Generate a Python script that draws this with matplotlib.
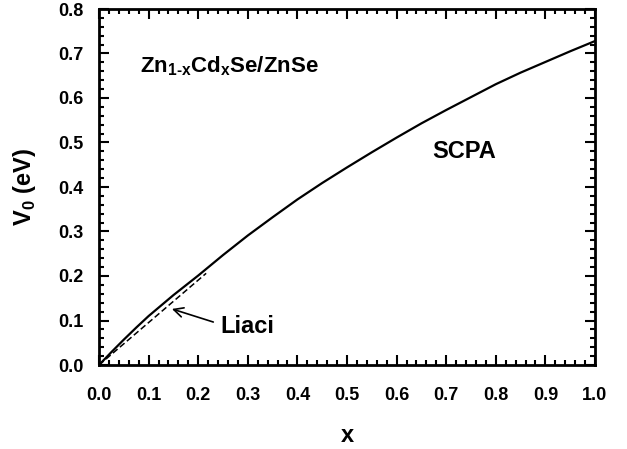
'''
V0 vs x for Zn1-xCdxSe/ZnSe (SCPA vs Liaci)
'''
import matplotlib
matplotlib.use('Agg')
import matplotlib.pyplot as plt
from matplotlib.ticker import MultipleLocator

# SCPA curve
x_scpa = [0.0, 0.025, 0.05, 0.075, 0.1, 0.15, 0.2, 0.25, 0.3, 0.35, 0.4, 0.45, 0.5,
          0.55, 0.6, 0.65, 0.7, 0.75, 0.8, 0.85, 0.9, 0.95, 1.0]
v_scpa = [0.0, 0.029, 0.057, 0.084, 0.110, 0.157, 0.201, 0.247, 0.291, 0.332, 0.372,
          0.409, 0.444, 0.478, 0.511, 0.543, 0.573, 0.602, 0.631, 0.657, 0.681, 0.705, 0.728]

# Liaci (dashed)
x_liaci = [0.0, 0.216]
v_liaci = [0.0, 0.206]

plt.rcParams['font.family'] = ['Liberation Sans', 'DejaVu Sans']
plt.rcParams['font.weight'] = 'bold'
plt.rcParams['mathtext.fontset'] = 'custom'
plt.rcParams['mathtext.bf'] = 'Liberation Sans:bold'
plt.rcParams['mathtext.rm'] = 'Liberation Sans:bold'

fig = plt.figure(figsize=(6.27, 4.49), dpi=100)
ax = fig.add_axes([99/627, 1 - 365/449, 496/627, 356/449])

ax.plot(x_scpa, v_scpa, color='black', lw=1.6)
ax.plot(x_liaci, v_liaci, color='black', lw=1.1, ls=(0, (4, 2)))

ax.set_xlim(0, 1.0)
ax.set_ylim(0, 0.8)
ax.xaxis.set_major_locator(MultipleLocator(0.1))
ax.xaxis.set_minor_locator(MultipleLocator(0.02))
ax.yaxis.set_major_locator(MultipleLocator(0.1))
ax.yaxis.set_minor_locator(MultipleLocator(0.02))
ax.xaxis.set_major_formatter(plt.FormatStrFormatter('%.1f'))
ax.yaxis.set_major_formatter(plt.FormatStrFormatter('%.1f'))
ax.tick_params(which='both', direction='in', top=True, right=True, width=1.5, labelsize=13)
ax.tick_params(axis='x', which='major', pad=16)
ax.tick_params(axis='y', which='major', pad=11)
ax.tick_params(which='major', length=7)
ax.tick_params(which='minor', length=3.5)
for s in ax.spines.values():
    s.set_linewidth(2)

ax.set_xlabel('x', fontsize=17, fontweight='bold', labelpad=14)
ax.set_ylabel(r'V$_\mathregular{0}$ (eV)', fontsize=17, fontweight='bold', labelpad=15)

ax.text(0.082, 0.658, r'Zn$_{\text{1-x}}$Cd$_{\text{x}}$Se/ZnSe', fontsize=16,
        fontweight='bold', va='baseline', ha='left')
ax.text(0.671, 0.465, 'SCPA', fontsize=17, fontweight='bold', va='baseline', ha='left')
ax.annotate('Liaci', xy=(0.147, 0.126), xytext=(0.244, 0.072), fontsize=17,
            fontweight='bold', va='baseline', ha='left',
            arrowprops=dict(arrowstyle='->', color='black', lw=1.2, shrinkA=3, shrinkB=0,
                            relpos=(0, 0.6)))

fig.savefig('out.png', dpi=100)
